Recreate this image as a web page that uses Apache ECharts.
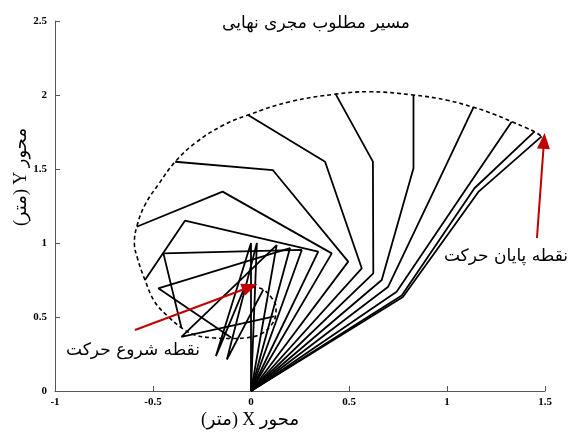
<!DOCTYPE html>
<html>
<head>
<meta charset="utf-8">
<script src="https://cdn.jsdelivr.net/npm/echarts@6/dist/echarts.min.js"></script>
<style>
  html, body { margin: 0; padding: 0; background: #fff; }
  #chart { width: 574px; height: 432px; }
</style>
</head>
<body>
<div id="chart"></div>
<script>
// Three-link planar arm: base at the origin, joint 1 (shoulder -> elbow),
// joint 2 (elbow -> wrist), end effector. One pose per entry, in motion order.
const elbowX = [0.000, 0.030, 0.131, 0.199, 0.259, 0.343, 0.412, 0.496, 0.565, 0.624, 0.667, 0.700, 0.743, 0.769, 0.775];
const elbowY = [1.000, 1.000, 0.986, 0.966, 0.953, 0.941, 0.930, 0.874, 0.829, 0.795, 0.750, 0.705, 0.671, 0.645, 0.635];
const wristX = [-0.179, -0.123, -0.355, -0.473, -0.447, -0.337, -0.145, 0.111, 0.378, 0.622, 0.829, 0.964, 1.098, 1.140, 1.160];
const wristY = [0.236, 0.213, 0.366, 0.694, 0.930, 1.151, 1.347, 1.493, 1.549, 1.550, 1.505, 1.439, 1.366, 1.370, 1.345];
const tipX = [-0.030, 0.063, 0.119, -0.100, -0.355, -0.541, -0.583, -0.387, -0.015, 0.432, 0.829, 1.135, 1.330, 1.446, 1.483];
const tipY = [0.708, 0.685, 0.505, 0.360, 0.427, 0.750, 1.110, 1.549, 1.865, 2.006, 2.000, 1.917, 1.820, 1.752, 1.720];

// Desired end-effector path (dashed)
const pathX = [-0.030, 0.020, 0.063, 0.105, 0.128, 0.125, 0.100, 0.050, -0.020, -0.100, -0.200, -0.290, -0.355, -0.420, -0.490, -0.541, -0.580, -0.595, -0.583, -0.540, -0.470, -0.387, -0.280, -0.150, -0.015, 0.200, 0.432, 0.600, 0.829, 1.000, 1.135, 1.240, 1.330, 1.400, 1.446, 1.483];
const pathY = [0.708, 0.700, 0.685, 0.630, 0.560, 0.505, 0.440, 0.385, 0.360, 0.355, 0.360, 0.380, 0.427, 0.500, 0.600, 0.750, 0.900, 1.000, 1.110, 1.260, 1.400, 1.549, 1.680, 1.790, 1.865, 1.955, 2.006, 2.022, 2.000, 1.965, 1.917, 1.870, 1.820, 1.780, 1.752, 1.720];

// Axis ticks
const xTicks = { min: -1, max: 1.5, step: 0.5 };
const yTicks = { min: 0, max: 2.5, step: 0.5 };

// Annotation arrows: [tailX, tailY, headX, headY]
const startArrow = [-0.592, 0.412, -0.005, 0.703];
const endArrow = [1.459, 1.034, 1.495, 1.690];

// Right-to-left embedding so mixed Persian/Latin labels read in the right order
const rtl = s => '\u202B' + s + '\u202C';
const titleText = 'مسیر مطلوب مجری نهایی';
const xName = 'محور X (متر)';
const yName = 'محور Y (متر)';
const startLabel = 'نقطه شروع حرکت';
const endLabel = 'نقطه پایان حرکت';

const chart = echarts.init(document.getElementById('chart'), null, { renderer: 'canvas' });

const armSeries = elbowX.map((_, i) => ({
  type: 'line',
  data: [[0, 0], [elbowX[i], elbowY[i]], [wristX[i], wristY[i]], [tipX[i], tipY[i]]],
  symbol: 'none',
  lineStyle: { color: '#000', width: 1.8 },
  z: 3,
  silent: true
}));

const red = '#c00000';
const arrowSeries = {
  type: 'line',
  data: [],
  symbol: 'none',
  silent: true,
  markLine: {
    silent: true,
    symbol: ['none', 'triangle'],
    symbolSize: [13, 16],
    lineStyle: { color: red, width: 2, type: 'solid' },
    itemStyle: { color: red },
    label: { show: false },
    emphasis: { disabled: true },
    data: [
      [{ coord: [startArrow[0], startArrow[1]] }, { coord: [startArrow[2], startArrow[3]] }],
      [{ coord: [endArrow[0], endArrow[1]] }, { coord: [endArrow[2], endArrow[3]] }]
    ]
  },
  z: 6
};

const axisLabelStyle = { color: '#000', fontFamily: 'Liberation Serif', fontWeight: 'bold', fontSize: 11 };
const arabicFont = "'Liberation Serif', 'DejaVu Sans', serif";

chart.setOption({
  animation: false,
  backgroundColor: '#fff',
  grid: { left: 55, right: 29, top: 21, bottom: 41 },
  xAxis: {
    type: 'value',
    min: xTicks.min, max: xTicks.max, interval: xTicks.step,
    axisLine: { onZero: false, lineStyle: { color: '#555', width: 1 } },
    axisTick: { inside: true, length: 5, lineStyle: { color: '#555' } },
    axisLabel: Object.assign({ margin: 6 }, axisLabelStyle),
    splitLine: { show: false }
  },
  yAxis: {
    type: 'value',
    min: yTicks.min, max: yTicks.max, interval: yTicks.step,
    axisLine: { show: true, onZero: false, lineStyle: { color: '#555', width: 1 } },
    axisTick: { show: true, inside: true, length: 5, lineStyle: { color: '#555' } },
    axisLabel: Object.assign({ margin: 8 }, axisLabelStyle),
    splitLine: { show: false }
  },
  series: [
    {
      type: 'line',
      data: pathX.map((x, i) => [x, pathY[i]]),
      smooth: 0.4,
      symbol: 'none',
      lineStyle: { color: '#000', width: 1.6, type: [4, 3] },
      z: 2,
      silent: true
    },
    ...armSeries,
    arrowSeries
  ],
  graphic: [
    { type: 'text', x: 316, y: 24, style: { text: titleText, font: "17px 'DejaVu Sans'", fill: '#000', textAlign: 'center', textVerticalAlign: 'middle' } },
    { type: 'text', x: 250, y: 420, style: { text: rtl(xName), font: '18px ' + arabicFont, fill: '#000', textAlign: 'center', textVerticalAlign: 'middle' } },
    { type: 'text', x: 21, y: 177, rotation: Math.PI / 2, style: { text: rtl(yName), font: '18px ' + arabicFont, fill: '#000', textAlign: 'center', textVerticalAlign: 'middle' } },
    { type: 'text', x: 133, y: 351, style: { text: startLabel, font: "17px 'DejaVu Sans'", fill: '#000', textAlign: 'center', textVerticalAlign: 'middle' } },
    { type: 'text', x: 506, y: 257, style: { text: endLabel, font: "17px 'DejaVu Sans'", fill: '#000', textAlign: 'center', textVerticalAlign: 'middle' } }
  ]
});
</script>
</body>
</html>
